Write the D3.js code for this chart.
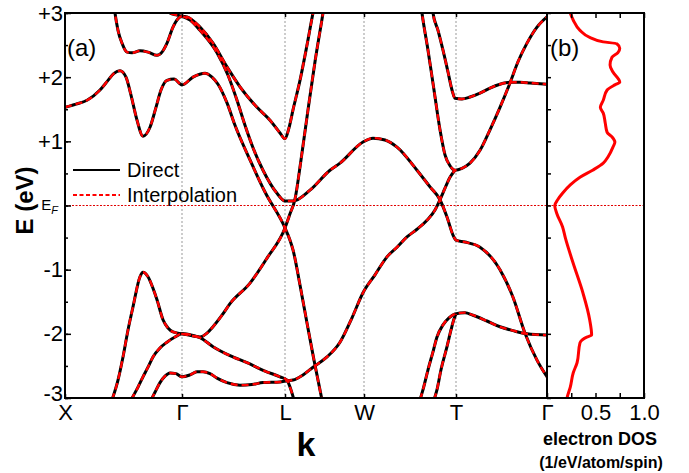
<!DOCTYPE html>
<html>
<head>
<meta charset="utf-8">
<script src="https://cdn.jsdelivr.net/npm/d3@7"></script>
<style>
  body { margin: 0; background: #fff; }
  svg text { font-family: "Liberation Sans", Arial, sans-serif; fill: #000; }
</style>
</head>
<body>
<div id="chart"></div>
<script>
// high symmetry points along the k path
const kLabels = ["X", "\u0393", "L", "W", "T", "\u0393"];
const kPoints = [0, 1.17, 2.20, 2.99, 3.91, 4.82];

const energyTicks = [-3, -2, -1, 0, 1, 2, 3];
const energyLabels = ["-3", "-2", "-1", "", "+1", "+2", "+3"];

// bands, [k, E (eV)]
const bandA = [[0.49, 3.12], [0.50, 3.00], [0.53, 2.73], [0.57, 2.53], [0.62, 2.39], [0.67, 2.38], [0.75, 2.41],
  [0.83, 2.39], [0.92, 2.34], [0.97, 2.39], [1.02, 2.53], [1.08, 2.78], [1.13, 2.91], [1.17, 2.95], [1.22, 2.94],
  [1.35, 2.78], [1.48, 2.53], [1.62, 2.16], [1.75, 1.85], [1.92, 1.53], [2.05, 1.33], [2.15, 1.13], [2.20, 1.04],
  [2.24, 1.21], [2.28, 1.49], [2.35, 1.95], [2.42, 2.50], [2.48, 3.00], [2.50, 3.15]];

const bandA2 = [[0.98, 3.12], [1.05, 3.00], [1.11, 2.97], [1.17, 2.95], [1.25, 2.89], [1.35, 2.73], [1.52, 2.38],
  [1.63, 2.03], [1.72, 1.64], [1.80, 1.25], [1.88, 0.90], [1.98, 0.55], [2.12, 0.19], [2.20, 0.07], [2.28, 0.07],
  [2.45, 0.24], [2.65, 0.55], [2.75, 0.66], [2.98, 0.99], [3.08, 1.05], [3.20, 1.02], [3.32, 0.91], [3.52, 0.55],
  [3.65, 0.29], [3.75, 0.09], [3.82, -0.18], [3.88, -0.46], [3.91, -0.54], [4.00, -0.57], [4.15, -0.65],
  [4.35, -1.00], [4.48, -1.43], [4.60, -1.99], [4.72, -2.41], [4.82, -2.67]];

const bandB = [[0.00, 1.53], [0.11, 1.58], [0.22, 1.64], [0.35, 1.80], [0.43, 1.95], [0.49, 2.06], [0.55, 2.10],
  [0.61, 2.00], [0.66, 1.72], [0.72, 1.33], [0.78, 1.08], [0.85, 1.22], [0.91, 1.53], [0.96, 1.80], [1.02, 1.95],
  [1.09, 1.97], [1.17, 1.88], [1.28, 2.00], [1.40, 2.06], [1.47, 2.00], [1.53, 1.89], [1.62, 1.60], [1.70, 1.25],
  [1.85, 0.71], [2.00, 0.21], [2.20, -0.35], [2.25, -0.54], [2.28, -0.69], [2.35, -1.24], [2.42, -1.83],
  [2.49, -2.41], [2.57, -3.03]];

const bandC1 = [[0.47, -3.03], [0.53, -2.72], [0.58, -2.36], [0.63, -1.94], [0.68, -1.58], [0.75, -1.11],
  [0.78, -1.04], [0.83, -1.11], [0.88, -1.29], [0.92, -1.47], [0.98, -1.78], [1.03, -1.91], [1.08, -1.97],
  [1.17, -2.00], [1.27, -2.03], [1.35, -2.05], [1.42, -1.99], [1.48, -1.89], [1.57, -1.71], [1.65, -1.53],
  [1.85, -1.21], [2.02, -0.82], [2.20, -0.35], [2.25, -0.13], [2.30, 0.10], [2.36, 0.71], [2.43, 1.49],
  [2.50, 2.24], [2.58, 3.00], [2.60, 3.20]];

const bandC2 = [[0.66, -3.03], [0.73, -2.83], [0.78, -2.67], [0.83, -2.52], [0.88, -2.36], [0.95, -2.22],
  [1.02, -2.13], [1.10, -2.05], [1.17, -2.00], [1.27, -2.02], [1.35, -2.06], [1.48, -2.20], [1.65, -2.34],
  [1.82, -2.45], [2.00, -2.58], [2.15, -2.67], [2.22, -2.72], [2.25, -2.83], [2.29, -3.03]];

const bandC3 = [[0.86, -3.03], [0.90, -2.91], [0.95, -2.76], [1.00, -2.66], [1.05, -2.61], [1.11, -2.62],
  [1.17, -2.67], [1.25, -2.64], [1.32, -2.59], [1.38, -2.59], [1.45, -2.62], [1.52, -2.69], [1.62, -2.76],
  [1.75, -2.80], [1.87, -2.79], [1.98, -2.76], [2.15, -2.75], [2.22, -2.73], [2.28, -2.72], [2.38, -2.64],
  [2.48, -2.52], [2.62, -2.36], [2.75, -2.13], [2.87, -1.75], [2.98, -1.36], [3.10, -1.08], [3.22, -0.80],
  [3.32, -0.65], [3.42, -0.49], [3.52, -0.37], [3.62, -0.23], [3.70, -0.07], [3.75, 0.09], [3.80, 0.27],
  [3.85, 0.44], [3.90, 0.55]];

const bandS1 = [[3.56, 3.12], [3.57, 3.00], [3.63, 2.42], [3.69, 1.80], [3.75, 1.18], [3.80, 0.79], [3.85, 0.62],
  [3.90, 0.55], [3.97, 0.58], [4.05, 0.66], [4.15, 0.86], [4.25, 1.18], [4.35, 1.53], [4.45, 1.91], [4.53, 2.24],
  [4.62, 2.53], [4.72, 2.78], [4.82, 2.94]];

const bandS2 = [[3.67, 3.12], [3.68, 3.00], [3.73, 2.73], [3.78, 2.42], [3.83, 2.08], [3.87, 1.80], [3.90, 1.67],
  [3.97, 1.66], [4.05, 1.69], [4.15, 1.75], [4.25, 1.83], [4.35, 1.89], [4.45, 1.92], [4.55, 1.92], [4.65, 1.91],
  [4.82, 1.89]];

const bandL1 = [[3.55, -3.03], [3.58, -2.87], [3.63, -2.56], [3.68, -2.28], [3.72, -2.05], [3.78, -1.86],
  [3.84, -1.75], [3.90, -1.69], [4.00, -1.67], [4.08, -1.71], [4.22, -1.80], [4.35, -1.89], [4.48, -1.95],
  [4.62, -2.00], [4.82, -2.02]];

const bandL2 = [[3.69, -3.03], [3.72, -2.87], [3.76, -2.56], [3.82, -2.20], [3.86, -1.94], [3.89, -1.77],
  [3.91, -1.69]];

const bands = [bandA, bandA2, bandB, bandC1, bandC2, bandC3, bandS1, bandS2, bandL1, bandL2];

// electron DOS (1/eV/atom/spin)
const dosEnergy = [3.05, 3.00, 2.89, 2.73, 2.62, 2.55, 2.52, 2.45, 2.38, 2.31, 2.19, 2.08, 1.92, 1.88, 1.80, 1.64,
  1.53, 1.44, 1.29, 1.14, 1.07, 0.99, 0.91, 0.76, 0.66, 0.55, 0.44, 0.32, 0.19, 0.09, 0.00, -0.12, -0.33, -0.51,
  -0.90, -1.36, -1.78, -2.02, -2.05, -2.14, -2.45, -2.61, -2.83, -2.98, -3.05];
const dosValues = [0.23, 0.24, 0.27, 0.34, 0.44, 0.58, 0.72, 0.75, 0.73, 0.67, 0.65, 0.68, 0.75, 0.70, 0.62, 0.58,
  0.55, 0.58, 0.60, 0.62, 0.67, 0.70, 0.68, 0.63, 0.58, 0.47, 0.34, 0.24, 0.16, 0.11, 0.08, 0.10, 0.16, 0.19,
  0.27, 0.37, 0.44, 0.46, 0.41, 0.34, 0.31, 0.27, 0.24, 0.21, 0.20];

const dosTicks = [0.25, 0.5, 0.75, 1.0];

const W = 689, H = 473;
const plotLeft = 65, plotMid = 547, plotRight = 644, plotTop = 13, plotBottom = 398;
const tickFont = 22;

const svg = d3.select("#chart").append("svg")
  .attr("width", W)
  .attr("height", H);

const x = d3.scaleLinear().domain([0, 4.82]).range([plotLeft, plotMid]);
const y = d3.scaleLinear().domain([-3, 3]).range([plotBottom, plotTop]);
const xd = d3.scaleLinear().domain([0, 1]).range([plotMid, plotRight]);

const defs = svg.append("defs");
defs.append("clipPath").attr("id", "clipA").append("rect")
  .attr("x", plotLeft).attr("y", plotTop).attr("width", plotMid - plotLeft).attr("height", plotBottom - plotTop);
defs.append("clipPath").attr("id", "clipB").append("rect")
  .attr("x", plotMid).attr("y", plotTop).attr("width", plotRight - plotMid).attr("height", plotBottom - plotTop);

// dotted guides at high symmetry points
svg.append("g")
  .selectAll("line")
  .data(kPoints.slice(1, 5))
  .join("line")
  .attr("x1", d => x(d)).attr("x2", d => x(d))
  .attr("y1", plotTop).attr("y2", plotBottom)
  .attr("stroke", "#999")
  .attr("stroke-width", 1)
  .attr("stroke-dasharray", "2,2");

// Fermi level
svg.append("line")
  .attr("x1", plotLeft).attr("x2", plotRight)
  .attr("y1", y(0)).attr("y2", y(0))
  .attr("stroke", "#e00000")
  .attr("stroke-width", 1)
  .attr("stroke-dasharray", "2,1.5");

const line = d3.line()
  .x(d => x(d[0]))
  .y(d => y(d[1]))
  .curve(d3.curveMonotoneX);

const bandG = svg.append("g").attr("clip-path", "url(#clipA)");

bandG.selectAll("path.direct")
  .data(bands)
  .join("path")
  .attr("class", "direct")
  .attr("d", line)
  .attr("fill", "none")
  .attr("stroke", "#000")
  .attr("stroke-width", 3);

bandG.selectAll("path.interp")
  .data(bands)
  .join("path")
  .attr("class", "interp")
  .attr("d", line)
  .attr("fill", "none")
  .attr("stroke", "#ff0000")
  .attr("stroke-width", 2.4)
  .attr("stroke-dasharray", "7,4");

// DOS panel
const dosLine = d3.line()
  .x(d => xd(d[1]))
  .y(d => y(d[0]))
  .curve(d3.curveMonotoneY);

svg.append("g").attr("clip-path", "url(#clipB)")
  .append("path")
  .attr("d", dosLine(dosEnergy.map((e, i) => [e, dosValues[i]])))
  .attr("fill", "none")
  .attr("stroke", "#ff0000")
  .attr("stroke-width", 3);

// axes
function styleAxis(g) {
  g.select(".domain").remove();
  g.selectAll(".tick line").attr("stroke", "#000").attr("stroke-width", 1.5);
  g.selectAll(".tick text").attr("font-size", tickFont);
}

const minorE = d3.range(-3, 3.01, 0.5);

const eAxis = svg.append("g")
  .attr("transform", `translate(${plotLeft},0)`)
  .call(d3.axisLeft(y).tickValues(energyTicks).tickSize(-6).tickPadding(2)
    .tickFormat((d, i) => energyLabels[i]))
  .call(styleAxis);
// lift the lowest label a little so it clears the X label
eAxis.selectAll(".tick text").filter(d => d === -3).attr("dy", "0.1em");

svg.append("g")
  .attr("transform", `translate(${plotLeft},0)`)
  .call(d3.axisLeft(y).tickValues(minorE).tickSize(-3).tickFormat(""))
  .call(styleAxis);

svg.append("g")
  .attr("transform", `translate(${plotMid},0)`)
  .call(d3.axisRight(y).tickValues(minorE).tickSize(4).tickFormat(""))
  .call(styleAxis);

// E_F label
const ef = svg.append("text")
  .attr("x", plotLeft - 7)
  .attr("y", y(0) + 4)
  .attr("text-anchor", "end")
  .attr("font-size", 15);
ef.append("tspan").text("E");
ef.append("tspan").attr("font-size", 11).attr("font-style", "italic").attr("dy", 4).text("F");

svg.append("g")
  .attr("transform", `translate(0,${plotTop})`)
  .call(d3.axisTop(x).tickValues(kPoints.slice(1, 5)).tickSize(-4).tickFormat(""))
  .call(styleAxis);

const kAxis = svg.append("g")
  .attr("transform", `translate(0,${plotBottom})`)
  .call(d3.axisBottom(x).tickValues(kPoints.slice(0, 5)).tickSize(-4).tickPadding(6)
    .tickFormat((d, i) => kLabels[i]))
  .call(styleAxis);
kAxis.selectAll(".tick text")
  .filter((d, i) => kLabels[i] === "\u0393")
  .attr("font-family", "Liberation Serif, serif");

svg.append("g")
  .attr("transform", `translate(0,${plotTop})`)
  .call(d3.axisTop(xd).tickValues(dosTicks).tickSize(-5).tickFormat(""))
  .call(styleAxis);

const dAxis = svg.append("g")
  .attr("transform", `translate(0,${plotBottom})`)
  .call(d3.axisBottom(xd).tickValues([0].concat(dosTicks)).tickSize(-5).tickPadding(6)
    .tickFormat(d => d === 0 ? kLabels[5] : (d === 0.5 || d === 1) ? d3.format(".1f")(d) : ""))
  .call(styleAxis);
dAxis.selectAll(".tick text")
  .filter(d => d === 0)
  .attr("font-family", "Liberation Serif, serif");

// frames
svg.append("rect")
  .attr("x", plotLeft).attr("y", plotTop).attr("width", plotMid - plotLeft).attr("height", plotBottom - plotTop)
  .attr("fill", "none").attr("stroke", "#000").attr("stroke-width", 2);
svg.append("rect")
  .attr("x", plotMid).attr("y", plotTop).attr("width", plotRight - plotMid).attr("height", plotBottom - plotTop)
  .attr("fill", "none").attr("stroke", "#000").attr("stroke-width", 2);

// panel labels
svg.append("text").attr("x", 67).attr("y", 56).attr("font-size", 24).text("(a)");
svg.append("text").attr("x", 550).attr("y", 56).attr("font-size", 24).text("(b)");

// legend
const legend = svg.append("g");
legend.append("line").attr("x1", 73).attr("x2", 120).attr("y1", 170).attr("y2", 170)
  .attr("stroke", "#000").attr("stroke-width", 2);
legend.append("text").attr("x", 127).attr("y", 177).attr("font-size", 20).text("Direct");
legend.append("line").attr("x1", 73).attr("x2", 120).attr("y1", 195).attr("y2", 195)
  .attr("stroke", "#ff0000").attr("stroke-width", 2).attr("stroke-dasharray", "4,2.5");
legend.append("text").attr("x", 127).attr("y", 202).attr("font-size", 20).text("Interpolation");

// axis titles
svg.append("text")
  .attr("transform", `translate(33,${y(0) - 5}) rotate(-90)`)
  .attr("text-anchor", "middle")
  .attr("font-size", 24)
  .attr("font-weight", "bold")
  .text("E (eV)");

svg.append("text")
  .attr("x", 306).attr("y", 456)
  .attr("text-anchor", "middle")
  .attr("font-size", 34)
  .attr("font-weight", "bold")
  .text("k");

svg.append("text")
  .attr("x", 600).attr("y", 445)
  .attr("text-anchor", "middle")
  .attr("font-size", 18)
  .attr("font-weight", "bold")
  .text("electron DOS");

svg.append("text")
  .attr("x", 601).attr("y", 468)
  .attr("text-anchor", "middle")
  .attr("font-size", 16)
  .attr("font-weight", "bold")
  .text("(1/eV/atom/spin)");
</script>
</body>
</html>
